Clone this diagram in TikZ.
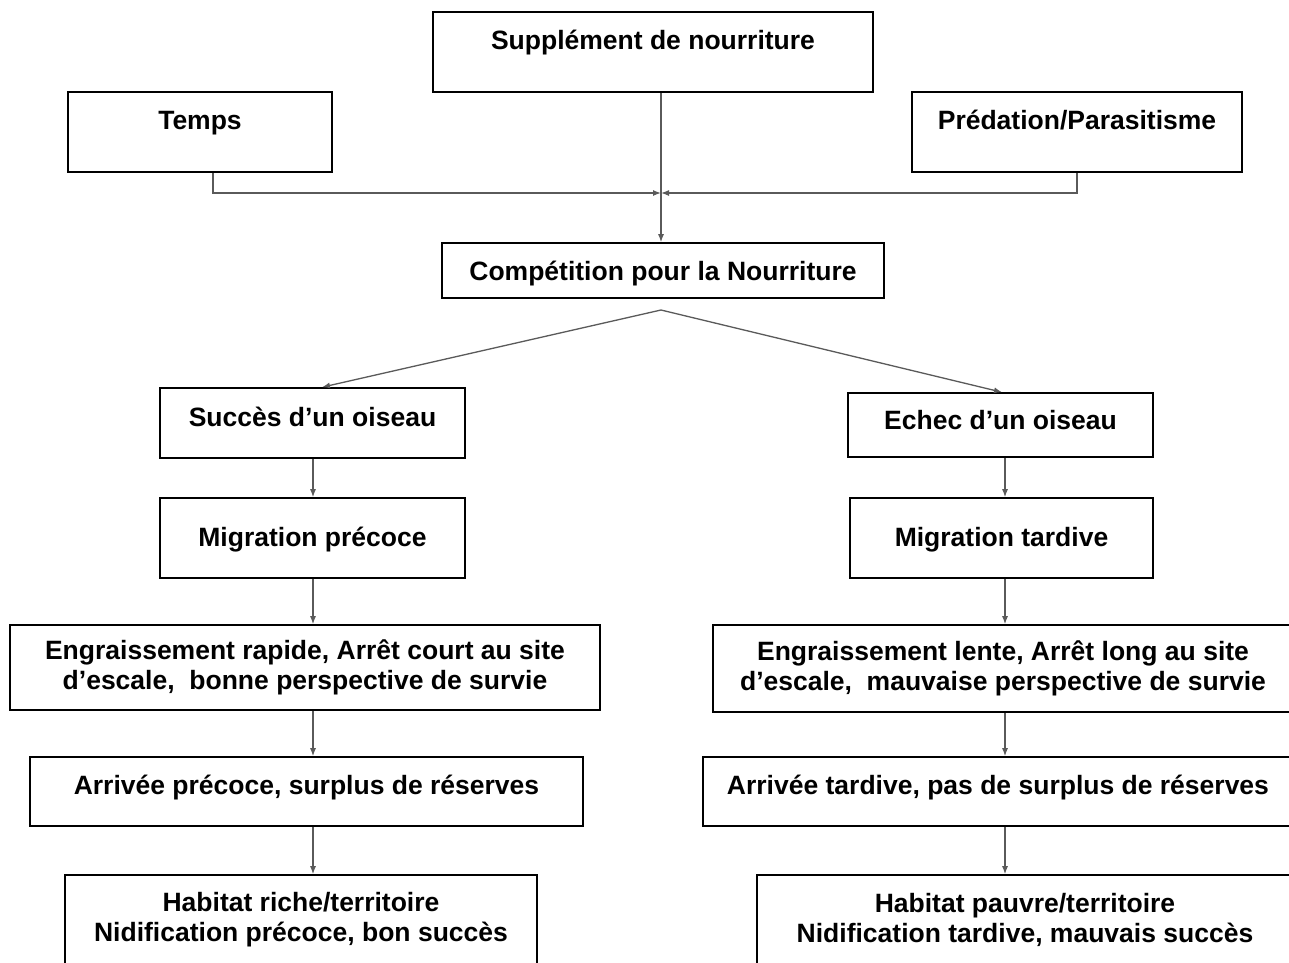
\documentclass[tikz,border=0pt]{standalone}
\usepackage{fontspec}
\setmainfont{Liberation Sans}
\usepackage{tikz}
\usetikzlibrary{arrows.meta,calc,positioning}
\definecolor{linegray}{HTML}{5A5A5A}

\begin{document}
\begin{tikzpicture}[x=1pt,y=-1pt,>=Latex,font=\fontsize{26.5}{30}\selectfont\bfseries]
\tikzset{box/.style={draw,line width=1.6pt,align=center,inner sep=0pt}}
\tikzset{one/.style={box,text height=19pt,text depth=5.6pt}}
\tikzset{conn/.style={draw=linegray,line width=1.3pt,-{Latex[length=8pt,width=6pt]}}}
\useasboundingbox[fill=white] (0,0) rectangle (1289,962);
% top row
\node[one,minimum width=440pt,minimum height=80pt,text depth=24pt] (sup) at (653,52) {Supplément de nourriture};
\node[one,minimum width=264pt,minimum height=80pt,text depth=24pt] (temps) at (200,132) {Temps};
\node[one,minimum width=330pt,minimum height=80pt,text depth=24pt] (pred) at (1077,132) {Prédation/Parasitisme};
\node[one,minimum width=442pt,minimum height=55pt,text depth=0pt] (comp) at (663,270.5) {Compétition pour la Nourriture};
\coordinate (join) at (661,193);
\coordinate (split) at (661,310);
\coordinate (lcol) at (313,0);
\coordinate (rcol) at (1005,0);
% left column
\node[one,minimum width=305pt,minimum height=70pt,text depth=12pt] (succ) at (312.5,423) {Succès d’un oiseau};
\node[one,minimum width=305pt,minimum height=80pt,text depth=2pt] (migp) at (312.5,538) {Migration précoce};
\node[box,minimum width=590pt,minimum height=85pt] (engr) at (305,667.5) {Engraissement rapide, Arrêt court au site\\d’escale,~ bonne perspective de survie};
\node[one,minimum width=553pt,minimum height=69pt,text depth=13pt] (arrp) at (306.5,791.5) {Arrivée précoce, surplus de réserves};
\node[box,minimum width=472pt,minimum height=90pt] (habr) at (301,920) {Habitat riche/territoire\\Nidification précoce, bon succès};
% right column
\node[one,minimum width=305pt,minimum height=64pt,text depth=10pt] (echec) at (1000.5,425) {Echec d’un oiseau};
\node[one,minimum width=303pt,minimum height=80pt,text depth=2pt] (migt) at (1001.5,538) {Migration tardive};
\node[box,minimum width=580pt,minimum height=87pt] (engl) at (1003,668.5) {Engraissement lente, Arrêt long au site\\d’escale,~ mauvaise perspective de survie};
\node[one,minimum width=590pt,minimum height=69pt,text depth=13pt] (arrt) at (998,791.5) {Arrivée tardive, pas de surplus de réserves};
\node[box,minimum width=536pt,minimum height=90pt] (habp) at (1025,920) {Habitat pauvre/territoire\\Nidification tardive, mauvais succès};
% connectors
\draw[conn] ([xshift=13pt]temps.south) |- (join);
\draw[conn] (pred.south) |- (join);
\draw[conn] (sup.south -| join) -- (comp.north -| join);
\draw[conn] (split) -- ([xshift=9.5pt]succ.north);
\draw[conn] (split) -- ([xshift=1.5pt]echec.north);
\draw[conn] (succ.south -| lcol) -- (migp.north -| lcol);
\draw[conn] (migp.south -| lcol) -- (engr.north -| lcol);
\draw[conn] (engr.south -| lcol) -- (arrp.north -| lcol);
\draw[conn] (arrp.south -| lcol) -- (habr.north -| lcol);
\draw[conn] (echec.south -| rcol) -- (migt.north -| rcol);
\draw[conn] (migt.south -| rcol) -- (engl.north -| rcol);
\draw[conn] (engl.south -| rcol) -- (arrt.north -| rcol);
\draw[conn] (arrt.south -| rcol) -- (habp.north -| rcol);
\end{tikzpicture}
\end{document}
